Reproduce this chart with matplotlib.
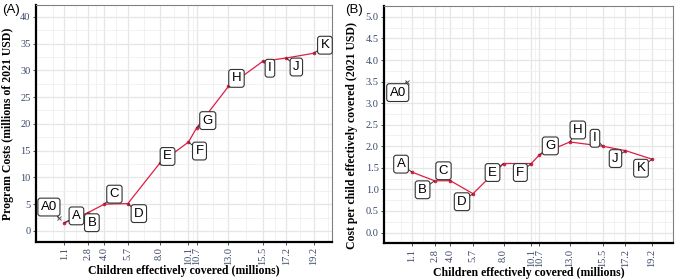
import matplotlib
matplotlib.use('Agg')
import matplotlib.pyplot as plt
import numpy as np

# Dados
pontos = ['A0', 'A', 'B', 'C', 'D', 'E', 'F', 'G', 'H', 'I', 'J', 'K']
criancas = [0.7, 1.1, 2.8, 4.0, 5.7, 8.0, 10.1, 10.7, 13.0, 15.5, 17.2, 19.2]
custo_total = [2.4, 1.5, 3.4, 5.0, 5.1, 12.6, 16.6, 19.3, 27.0, 31.7, 32.3, 33.2]
custo_por_crianca = [3.5, 1.4, 1.2, 1.2, 0.9, 1.6, 1.6, 1.8, 2.1, 2.0, 1.9, 1.7]
xticks = [1.1, 2.8, 4.0, 5.7, 8.0, 10.1, 10.7, 13.0, 15.5, 17.2, 19.2]

# deslocamento dos rotulos (pixels)
off_a = [(-10, 11), (12, 7), (4, -10), (10, 10), (11, -10), (8, 7),
         (11, -9), (11, 7), (8, 8), (7, -7), (10, -9), (11, 8)]
off_b = [(-9, -11), (-11, 8), (-12, -9), (-7, 10), (-11, -8), (-11, -9),
         (-11, -9), (11, 9), (8, 12), (-8, 8), (-10, -8), (-11, -9)]

vermelho = '#DC1F45'
cor_tick = '#3A4868'

fig = plt.figure(figsize=(6.8, 2.79), dpi=100)
ax1 = fig.add_axes([0.053, 0.134, 0.435, 0.848])
ax2 = fig.add_axes([0.565, 0.128, 0.425, 0.850])


def minor_x(b):
    m = [(b[i] + b[i + 1]) / 2 for i in range(len(b) - 1)]
    return [b[0] - (b[1] - b[0]) / 2] + m + [b[-1] + (b[-1] - b[-2]) / 2]


def estilo(ax, yvals, ymaj, ymin, ylim, xlim, ylabel, ylab_x, ylab_y):
    ax.set_xlim(*xlim)
    ax.set_ylim(*ylim)
    ax.set_xticks(xticks)
    ax.set_xticklabels(['%.1f' % v for v in xticks], rotation=90,
                       family='Liberation Serif', fontsize=7.5, color=cor_tick)
    ax.set_xticks(minor_x(xticks), minor=True)
    ax.set_yticks(ymaj)
    ax.set_yticks(ymin, minor=True)
    ax.set_yticklabels(yvals, family='Liberation Serif', fontsize=7.5, color=cor_tick)
    ax.tick_params(which='major', length=2.5, width=0.6, color='#333333', pad=1.5)
    ax.tick_params(which='minor', length=0)
    ax.grid(which='major', color='#E6E6E6', lw=0.9)
    ax.grid(which='minor', color='#F0F0F0', lw=0.6)
    ax.set_axisbelow(True)
    for s in ['top', 'right']:
        ax.spines[s].set_color('#808080')
        ax.spines[s].set_linewidth(0.8)
    for s in ['left', 'bottom']:
        ax.spines[s].set_color('black')
        ax.spines[s].set_linewidth(1.6)
    ax.set_xlabel('Children effectively covered (millions)', family='Liberation Serif',
                  fontweight='bold', fontsize=8.5, labelpad=0)
    ax.set_ylabel(ylabel, family='Liberation Serif', fontweight='bold', fontsize=8.5)
    ax.yaxis.set_label_coords(ylab_x, ylab_y)


def desenha(ax, y, offs):
    ax.plot(criancas[1:], y[1:], color=vermelho, lw=0.9, marker='o', ms=1.6, zorder=3)
    ax.plot(criancas[0], y[0], marker='x', color='#555555', ms=2.5, mew=0.7, ls='none', zorder=3)
    for nome, xv, yv, off in zip(pontos, criancas, y, offs):
        ax.annotate(nome, (xv, yv), xytext=off, textcoords='offset pixels',
                    ha='center', va='center', fontsize=9.5, family='Liberation Sans',
                    bbox=dict(boxstyle='round,pad=0.22,rounding_size=0.2', fc='white',
                              ec='#333333', lw=0.8),
                    arrowprops=dict(arrowstyle='-', color='#333333', lw=0.7,
                                    shrinkA=0, shrinkB=0),
                    zorder=4)


desenha(ax1, custo_total, off_a)
estilo(ax1, [str(v) for v in range(0, 45, 5)], list(range(0, 45, 5)),
       list(np.arange(2.5, 42, 5)), (-2.0, 42.2), (-0.96, 20.5),
       'Program Costs (millions of 2021 USD)', -0.074, 0.5)

desenha(ax2, custo_por_crianca, off_b)
ymaj_b = list(np.arange(0, 5.01, 0.5))
estilo(ax2, ['%.1f' % v for v in ymaj_b], ymaj_b,
       list(np.arange(0.25, 5.2, 0.5)), (-0.25, 5.25), (-1.0, 20.8),
       'Cost per child effectively covered (2021 USD)', -0.09, 0.455)

fig.text(0.003, 0.985, '(A)', fontsize=9.5, family='Liberation Sans', va='top')
fig.text(0.508, 0.985, '(B)', fontsize=9.5, family='Liberation Sans', va='top')

fig.savefig('out.png', dpi=100)
